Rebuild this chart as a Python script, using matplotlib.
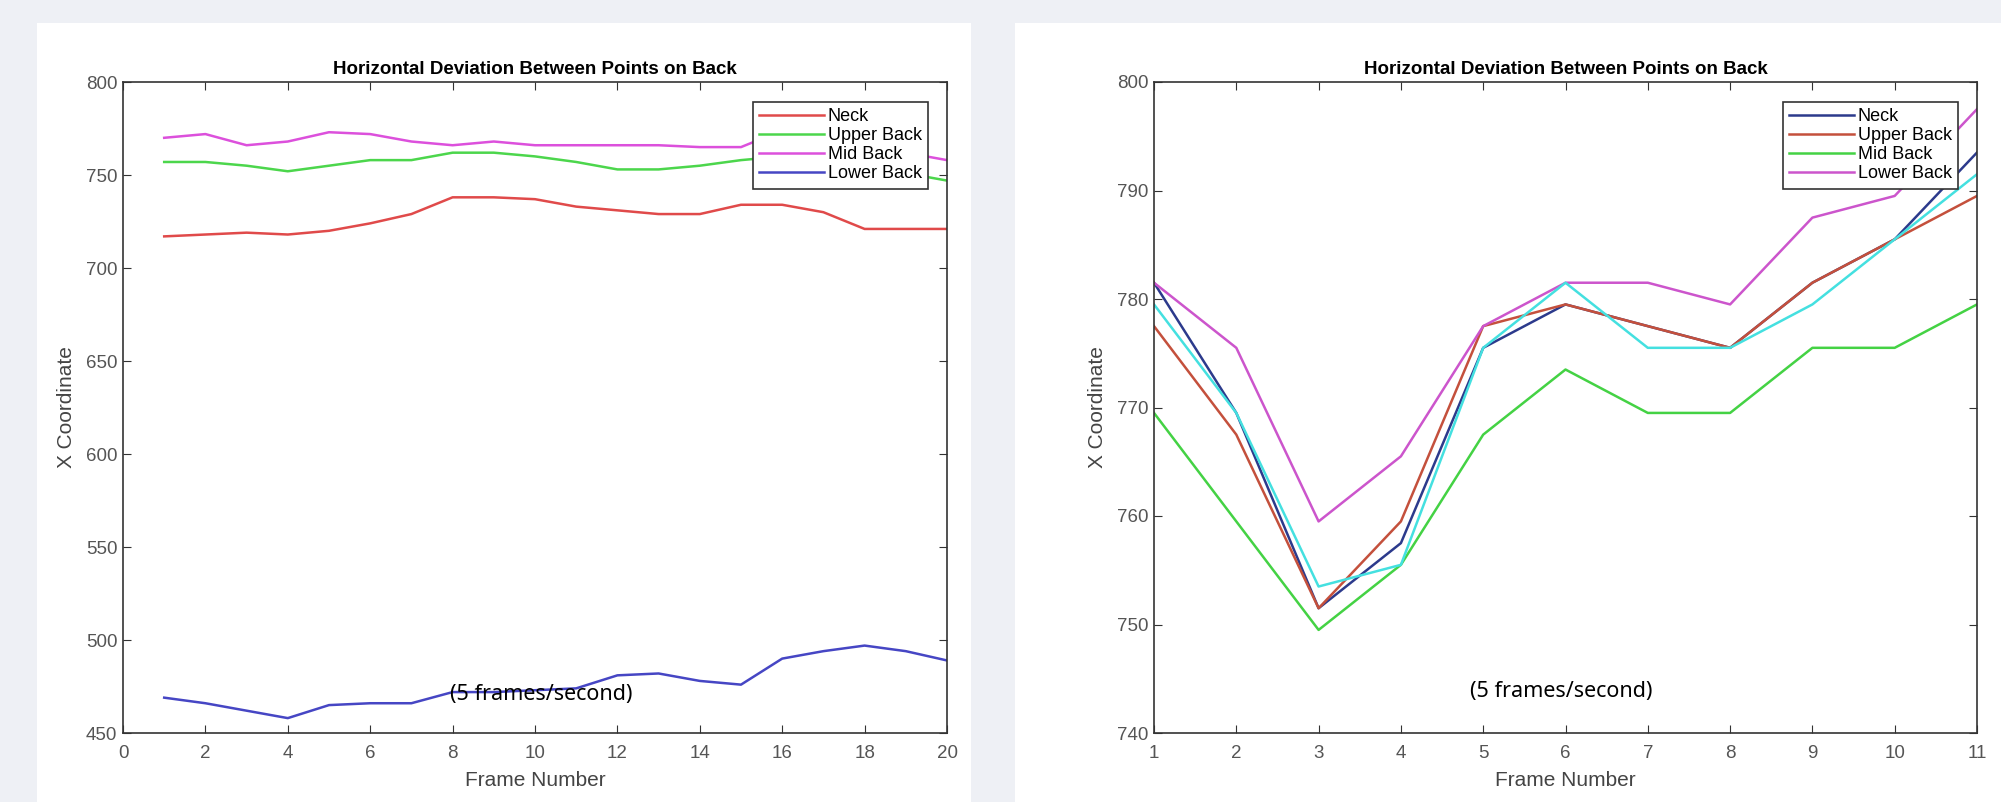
import numpy as np
import matplotlib.pyplot as plt
from matplotlib.patches import Rectangle

plt.rcParams['font.family'] = ['Liberation Sans', 'DejaVu Sans']

# Left chart: 20 frames
frames_a = np.arange(1, 21)
neck_a = [717, 718, 719, 718, 720, 724, 729, 738, 738, 737,
          733, 731, 729, 729, 734, 734, 730, 721, 721, 721]
upper_a = [757, 757, 755, 752, 755, 758, 758, 762, 762, 760,
           757, 753, 753, 755, 758, 760, 759, 757, 751, 747]
mid_a = [770, 772, 766, 768, 773, 772, 768, 766, 768, 766,
         766, 766, 766, 765, 765, 774, 772, 768, 762, 758]
lower_a = [469, 466, 462, 458, 465, 466, 466, 472, 472, 473,
           474, 481, 482, 478, 476, 490, 494, 497, 494, 489]

# Right chart: 11 frames
frames_b = np.arange(1, 12)
neck_b = [781.5, 769.5, 751.5, 757.5, 775.5, 779.5, 777.5, 775.5, 781.5, 785.5, 793.5]
upper_b = [777.5, 767.5, 751.5, 759.5, 777.5, 779.5, 777.5, 775.5, 781.5, 785.5, 789.5]
mid_b = [769.5, 759.5, 749.5, 755.5, 767.5, 773.5, 769.5, 769.5, 775.5, 775.5, 779.5]
lower_b = [781.5, 775.5, 759.5, 765.5, 777.5, 781.5, 781.5, 779.5, 787.5, 789.5, 797.5]
extra_b = [779.5, 769.5, 753.5, 755.5, 775.5, 781.5, 775.5, 775.5, 779.5, 785.5, 791.5]

labels = ['Neck', 'Upper Back', 'Mid Back', 'Lower Back']
title = 'Horizontal Deviation Between Points on Back'
note = '(5 frames/second)'
note_font = ['Noto Sans', 'DejaVu Sans']

fig = plt.figure(figsize=(20.01, 8.02), dpi=100, facecolor='#eef0f5')
# white cards behind each chart
fig.add_artist(Rectangle((37 / 2001, 0), 934 / 2001, 779 / 802,
                         transform=fig.transFigure, facecolor='white',
                         edgecolor='none', zorder=0))
fig.add_artist(Rectangle((1015 / 2001, 0), 986 / 2001, 779 / 802,
                         transform=fig.transFigure, facecolor='white',
                         edgecolor='none', zorder=0))

ax1 = fig.add_axes([123 / 2001, 69 / 802, 824 / 2001, 651 / 802])
ax2 = fig.add_axes([1154 / 2001, 69 / 802, 823 / 2001, 651 / 802])

lw = 1.8
ax1.plot(frames_a, neck_a, color='#e04a4a', lw=lw, label=labels[0])
ax1.plot(frames_a, upper_a, color='#4cd64c', lw=lw, label=labels[1])
ax1.plot(frames_a, mid_a, color='#dc50dc', lw=lw, label=labels[2])
ax1.plot(frames_a, lower_a, color='#4646c4', lw=lw, label=labels[3])
ax1.set_xlim(0, 20)
ax1.set_ylim(450, 800)
ax1.set_xticks(np.arange(0, 21, 2))
ax1.set_yticks(np.arange(450, 801, 50))
ax1.text(10.15, 470.5, note, ha='center', va='center', fontsize=15.5,
         family=note_font, color='black')

ax2.plot(frames_b, neck_b, color='#2c3a8c', lw=lw, label=labels[0])
ax2.plot(frames_b, upper_b, color='#c4503c', lw=lw, label=labels[1])
ax2.plot(frames_b, mid_b, color='#44d244', lw=lw, label=labels[2])
ax2.plot(frames_b, lower_b, color='#cc55cc', lw=lw, label=labels[3])
ax2.plot(frames_b, extra_b, color='#44e0e0', lw=lw)
ax2.set_xlim(1, 11)
ax2.set_ylim(740, 800)
ax2.set_xticks(np.arange(1, 12))
ax2.set_yticks(np.arange(740, 801, 10))
ax2.text(5.95, 743.8, note, ha='center', va='center', fontsize=15.5,
         family=note_font, color='black')

for ax in (ax1, ax2):
    ax.set_title(title, fontsize=13.5, fontweight='bold', pad=6)
    ax.set_xlabel('Frame Number', fontsize=15, color='#444444', labelpad=6)
    ax.set_ylabel('X Coordinate', fontsize=15, color='#444444', labelpad=7)
    ax.tick_params(direction='in', top=True, right=True, length=6,
                   labelsize=13.5, labelcolor='#555555', color='#333333')
    ax.tick_params(axis='x', pad=9)
    ax.tick_params(axis='y', pad=4)
    for s in ax.spines.values():
        s.set_color('#333333')
        s.set_linewidth(1.2)
    leg = ax.legend(loc='upper right', fontsize=13, labelspacing=0.12,
                    handlelength=3.6, handletextpad=0.2, borderpad=0.35,
                    borderaxespad=0, fancybox=False, framealpha=1,
                    edgecolor='#333333', bbox_to_anchor=(0.977, 0.97))
    leg.get_frame().set_linewidth(1.2)

fig.savefig('out.png', dpi=100, facecolor=fig.get_facecolor())
